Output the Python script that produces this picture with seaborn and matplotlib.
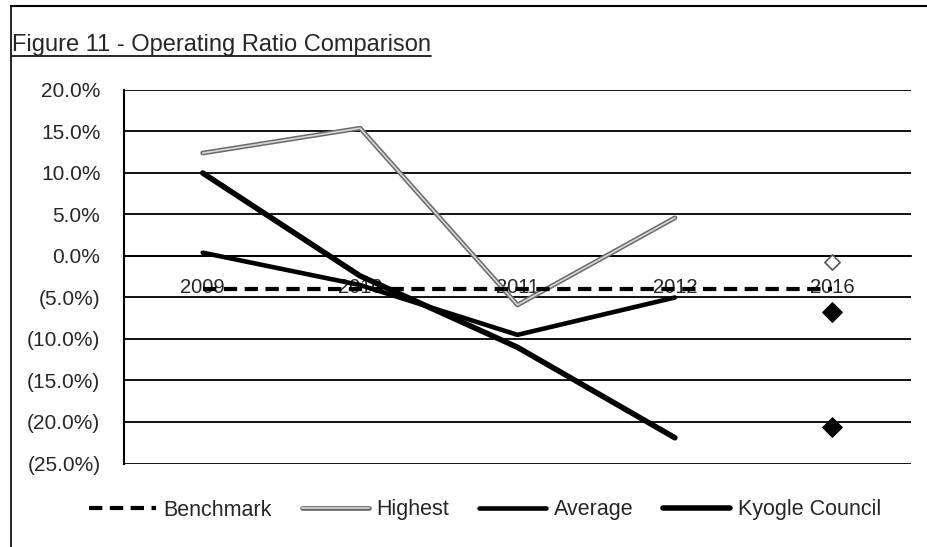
import numpy as np
import pandas as pd
import matplotlib
matplotlib.use("Agg")
import matplotlib.pyplot as plt
import matplotlib.patheffects as pe
from matplotlib.lines import Line2D
from matplotlib.ticker import FuncFormatter, FixedLocator
import seaborn as sns

# data (percent)
years = ["2009", "2010", "2011", "2012", "2016"]
benchmark = [-4.0, -4.0, -4.0, -4.0, -4.0]
highest = [12.4, 15.4, -5.9, 4.6, -0.7]
average = [0.4, -3.5, -9.5, -5.0, -6.7]
kyogle = [10.0, -2.4, -11.0, -21.9, -20.6]

sns.set_style("white")
plt.rcParams["font.family"] = ["Liberation Sans", "DejaVu Sans"]

df = pd.DataFrame({"pos": np.arange(len(years)), "year": years,
                   "Benchmark": benchmark, "Highest": highest,
                   "Average": average, "Kyogle Council": kyogle})
lines_df = df.iloc[:4]
last = df.iloc[4:]

fig = plt.figure(figsize=(9.28, 5.47), dpi=100)
ax = fig.add_axes([124 / 928, 1 - 463.5 / 547, (911 - 124) / 928, (463.5 - 90) / 547])

hi_fx = [pe.Stroke(linewidth=3.4, foreground="#6a6a6a"), pe.Stroke(linewidth=1.2, foreground="#d8d8d8")]

sns.lineplot(data=df, x="pos", y="Benchmark", ax=ax, color="black", lw=3.0,
             dashes=False, zorder=4).lines[-1].set_dashes([3.2, 1.8])
sns.lineplot(data=lines_df, x="pos", y="Highest", ax=ax, color="#888888", lw=3.4,
             path_effects=hi_fx, zorder=3)
sns.lineplot(data=lines_df, x="pos", y="Average", ax=ax, color="black", lw=3.3, zorder=3)
sns.lineplot(data=lines_df, x="pos", y="Kyogle Council", ax=ax, color="black", lw=4.0, zorder=3)

sns.scatterplot(data=last, x="pos", y="Highest", ax=ax, marker="D", s=60,
                facecolor="white", edgecolor="#555555", linewidth=1.2, zorder=5)
sns.scatterplot(data=last, x="pos", y="Average", ax=ax, marker="D", s=100,
                color="black", edgecolor="black", zorder=5)
sns.scatterplot(data=last, x="pos", y="Kyogle Council", ax=ax, marker="D", s=100,
                color="black", edgecolor="black", zorder=5)

ax.set_xlim(-0.5, len(years) - 0.5)
ax.set_ylim(-25, 20)
ax.set_yticks(np.arange(-25, 21, 5))
ax.yaxis.set_major_formatter(FuncFormatter(
    lambda v, p: f"{v:.1f}%" if v >= -1e-9 else f"({-v:.1f}%)"))
ax.grid(axis="y", color="black", lw=1.3)
ax.set_axisbelow(True)
ax.tick_params(axis="y", direction="out", length=5, width=1.2, color="black",
               pad=12, labelsize=15)

ax.set_xticks(df["pos"])
ax.set_xticklabels(years)
ax.xaxis.set_minor_locator(FixedLocator(np.arange(0.5, len(years) - 1, 1.0)))
ax.tick_params(axis="x", which="major", length=0, pad=16, labelsize=14.5)
ax.tick_params(axis="x", which="minor", direction="out", length=6, width=1.2, color="black")
ax.set_xlabel("")
ax.set_ylabel("")

for s in ["top", "right"]:
    ax.spines[s].set_visible(False)
ax.spines["left"].set_color("black")
ax.spines["left"].set_linewidth(1.5)
ax.spines["bottom"].set_position(("data", 0))
ax.spines["bottom"].set_color("black")
ax.spines["bottom"].set_linewidth(1.3)

# legend
handles = [
    Line2D([], [], color="black", lw=3.0, dashes=[3.2, 1.8]),
    Line2D([], [], color="#888888", lw=3.4, path_effects=hi_fx),
    Line2D([], [], color="black", lw=3.3),
    Line2D([], [], color="black", lw=4.0),
]
labels = ["Benchmark", "Highest", "Average", "Kyogle Council"]
fig.legend(handles, labels, loc="center", bbox_to_anchor=(485 / 928, 1 - 510 / 547),
           ncol=4, frameon=False, fontsize=15.5, handlelength=3.1, handletextpad=0.35,
           columnspacing=1.4)

# title with underline
title = fig.text(12 / 928, 1 - 51 / 547, "Figure 11 - Operating Ratio Comparison",
                 fontsize=17, ha="left", va="baseline")
fig.canvas.draw()
bb = title.get_window_extent()
uy = 1 - 56 / 547
fig.add_artist(Line2D([bb.x0 / 928, bb.x1 / 928], [uy, uy], color="black", lw=1.2))

# page frame
fig.add_artist(Line2D([11 / 928, 11 / 928], [0, 1 - 6 / 547], color="black", lw=1.2))
fig.add_artist(Line2D([11 / 928, 1], [1 - 6 / 547, 1 - 6 / 547], color="black", lw=1.5))

fig.savefig("out.png", dpi=100)
